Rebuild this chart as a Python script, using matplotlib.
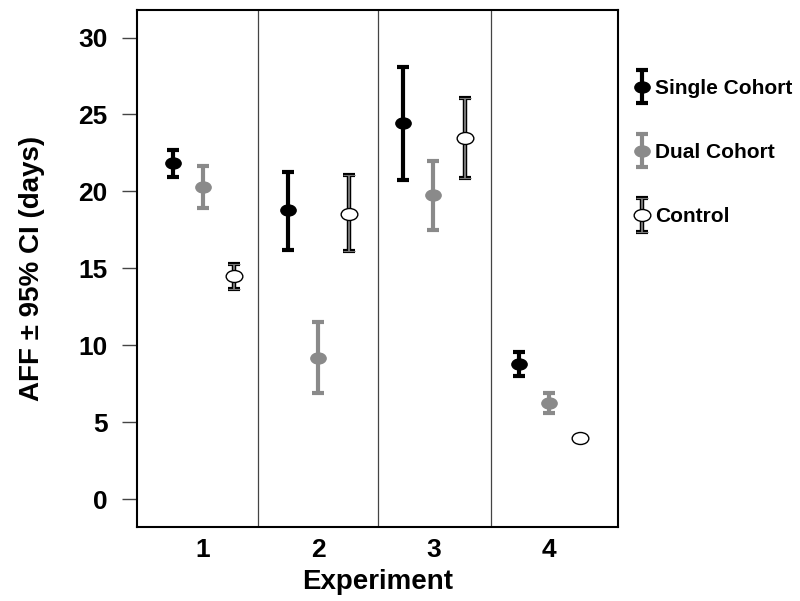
import numpy as np
import matplotlib
matplotlib.use("Agg")
import matplotlib.pyplot as plt
from matplotlib.path import Path
from matplotlib.container import ErrorbarContainer
from matplotlib.legend_handler import HandlerErrorbar

plt.rcParams['font.family'] = ['Liberation Sans', 'DejaVu Sans']
plt.rcParams['font.weight'] = 'bold'

# data
experiments = [1, 2, 3, 4]
single_mean = [21.85, 18.8, 24.45, 8.75]
single_lo = [20.95, 16.2, 20.75, 8.0]
single_hi = [22.7, 21.25, 28.1, 9.55]
dual_mean = [20.3, 9.15, 19.75, 6.25]
dual_lo = [18.95, 6.9, 17.5, 5.6]
dual_hi = [21.65, 11.5, 21.95, 6.9]
ctrl_mean = [14.5, 18.5, 23.5, 4.0]
ctrl_lo = [13.65, 16.1, 20.9, 3.95]
ctrl_hi = [15.3, 21.05, 26.1, 4.05]
dividers = [1.48, 2.52, 3.5]

offsets = [-0.26, 0.0, 0.27]

# elliptical marker (wider than tall)
circ = Path.unit_circle()
ellipse = Path(circ.vertices * np.array([1.0, 0.72]), circ.codes)

fig = plt.figure(figsize=(8.0, 6.01), dpi=100)
ax = fig.add_axes([0.171, 0.123, 0.6015, 0.8604])

x = np.array(experiments, dtype=float)

def err(mean, lo, hi):
    mean = np.array(mean); lo = np.array(lo); hi = np.array(hi)
    return [mean - lo, hi - mean]

single = ax.errorbar(x + offsets[0], single_mean, yerr=err(single_mean, single_lo, single_hi),
                     fmt='none', ecolor='black', elinewidth=3.0, capsize=4.5, capthick=3.0)
single_pt = ax.plot(x + offsets[0], single_mean, linestyle='none', marker=ellipse,
                    markersize=11, color='black')[0]

dual = ax.errorbar(x + offsets[1], dual_mean, yerr=err(dual_mean, dual_lo, dual_hi),
                   fmt='none', ecolor='#8a8a8a', elinewidth=3.0, capsize=4.5, capthick=3.0)
dual_pt = ax.plot(x + offsets[1], dual_mean, linestyle='none', marker=ellipse,
                  markersize=11, color='#8a8a8a')[0]

ctrl_b = ax.errorbar(x + offsets[2], ctrl_mean, yerr=err(ctrl_mean, ctrl_lo, ctrl_hi),
                     fmt='none', ecolor='black', elinewidth=3.2, capsize=4.0, capthick=3.0)
ctrl_g = ax.errorbar(x + offsets[2], ctrl_mean, yerr=err(ctrl_mean, ctrl_lo, ctrl_hi),
                     fmt='none', ecolor='#777777', elinewidth=1.4, capsize=4.0, capthick=0.8)
ctrl_pt = ax.plot(x + offsets[2], ctrl_mean, linestyle='none', marker=ellipse,
                  markersize=12, markerfacecolor='white', markeredgecolor='black',
                  markeredgewidth=1.0)[0]

for d in dividers:
    ax.axvline(d, color='#444444', linewidth=0.9)

ax.set_xlim(0.43, 4.6)
ax.set_ylim(-1.82, 31.79)
ax.set_xticks(experiments)
ax.set_yticks(np.arange(0, 31, 5))
ax.tick_params(axis='x', length=0, pad=8, labelsize=19)
ax.tick_params(axis='y', length=11, width=1.0, color='#444444', pad=10, labelsize=19)
for s in ax.spines.values():
    s.set_linewidth(1.5)

ax.set_xlabel('Experiment', fontsize=20, fontweight='bold', labelpad=5)
ax.set_ylabel('AFF \u00b1 95% CI (days)', fontsize=20, fontweight='bold', labelpad=24)

leg = fig.legend([(single, single_pt), (dual, dual_pt), (ctrl_b, ctrl_g, ctrl_pt)],
                 ['Single Cohort', 'Dual Cohort', 'Control'],
                 loc='upper left', bbox_to_anchor=(0.771, 0.9), frameon=False,
                 handlelength=0.6, handletextpad=0.35, labelspacing=2.17,
                 handler_map={ErrorbarContainer: HandlerErrorbar(yerr_size=0.8)},
                 prop={'size': 15, 'weight': 'bold'})

fig.savefig('out.png', dpi=100)
